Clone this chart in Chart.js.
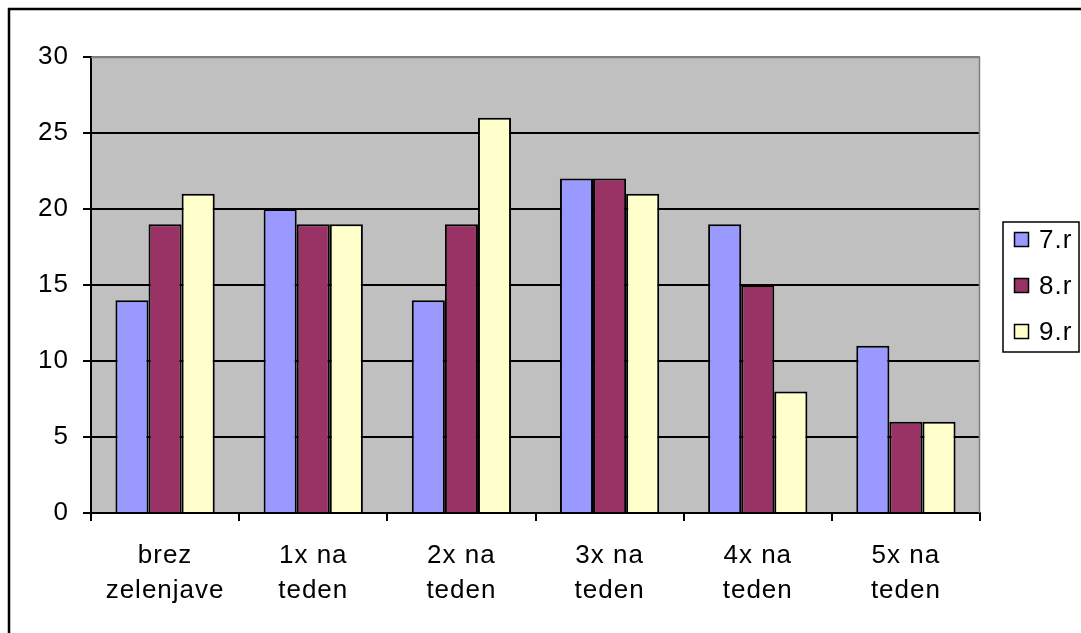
<!DOCTYPE html>
<html>
<head>
<meta charset="utf-8">
<script src="https://cdn.jsdelivr.net/npm/chart.js@4"></script>
<style>
  html, body { margin: 0; padding: 0; background: #fff; }
  #wrap { width: 1081px; height: 633px; }
</style>
</head>
<body>
<div id="wrap"><canvas id="myChart"></canvas></div>
<script>
const categories = [['brez', 'zelenjave'], ['1x na', 'teden'], ['2x na', 'teden'], ['3x na', 'teden'], ['4x na', 'teden'], ['5x na', 'teden']];
const seriesNames = ['7.r', '8.r', '9.r'];
const values7 = [14, 20, 14, 22, 19, 11];
const values8 = [19, 19, 19, 22, 15, 6];
const values9 = [21, 19, 26, 21, 8, 6];
const yTicks = [0, 5, 10, 15, 20, 25, 30];

const colors = ['#9999FF', '#993366', '#FFFFCC'];
const family = '"Liberation Sans", Arial, sans-serif';
const font = { family: family, size: 26, lineHeight: 1.35 };

const frame = {
  id: 'frame',
  beforeInit(chart) {
    chart.ctx.letterSpacing = '1px';
  },
  beforeDraw(chart) {
    const { ctx, chartArea: a } = chart;
    ctx.letterSpacing = '1px';
    ctx.save();
    ctx.fillStyle = '#C0C0C0';
    ctx.fillRect(a.left, a.top, a.right - a.left, a.bottom - a.top);
    ctx.restore();
  },
  afterDatasetsDraw(chart) {
    const { ctx, chartArea: a } = chart;
    ctx.save();
    // gray right / top edge of plot area
    ctx.strokeStyle = '#808080';
    ctx.lineWidth = 1.5;
    ctx.beginPath();
    ctx.moveTo(a.left, a.top + 0.5);
    ctx.lineTo(a.right - 0.5, a.top + 0.5);
    ctx.lineTo(a.right - 0.5, a.bottom);
    ctx.stroke();
    // outer border (right and bottom edges fall outside the picture)
    ctx.strokeStyle = '#000';
    ctx.lineWidth = 2.5;
    ctx.strokeRect(9, 9, 1100, 700);
    // legend box
    const lx = 1003, ly = 222, lw = 76, lh = 130;
    ctx.lineWidth = 1.5;
    ctx.strokeRect(lx, ly, lw, lh);
    ctx.font = '26px ' + family;
    ctx.textBaseline = 'middle';
    chart.data.datasets.forEach((ds, i) => {
      const y = ly + 17 + i * 46;
      ctx.fillStyle = ds.backgroundColor;
      ctx.fillRect(lx + 11, y - 7, 15, 15);
      ctx.lineWidth = 1.5;
      ctx.strokeStyle = '#000';
      ctx.strokeRect(lx + 11.5, y - 6.5, 14, 14);
      ctx.fillStyle = '#000';
      ctx.fillText(ds.label, lx + 36, y + 2);
    });
    ctx.restore();
  }
};

const datasets = [values7, values8, values9].map((vals, i) => ({
  label: seriesNames[i],
  data: vals,
  backgroundColor: colors[i],
  borderColor: '#000',
  borderWidth: 2,
  categoryPercentage: 0.67,
  barPercentage: 1
}));

new Chart(document.getElementById('myChart'), {
  type: 'bar',
  data: { labels: categories, datasets: datasets },
  plugins: [frame],
  options: {
    responsive: true,
    maintainAspectRatio: false,
    animation: false,
    layout: { padding: { top: 57, right: 101, bottom: 0, left: 0 } },
    plugins: { legend: { display: false }, tooltip: { enabled: false } },
    scales: {
      x: {
        afterFit(scale) { scale.height = 120; },
        border: { color: '#000', width: 2 },
        grid: { drawOnChartArea: false, drawTicks: true, tickLength: 8, color: '#000', lineWidth: 2, offset: true },
        ticks: { color: '#000', font: font, padding: 17, maxRotation: 0, autoSkip: false }
      },
      y: {
        min: 0,
        max: 30,
        afterFit(scale) { scale.width = 91; },
        afterBuildTicks(scale) { scale.ticks = yTicks.map(v => ({ value: v })); },
        border: { color: '#000', width: 2 },
        grid: {
          color: ctx => (ctx.tick && ctx.tick.value === 30 ? '#808080' : '#000'),
          tickColor: '#000',
          lineWidth: 2,
          tickLength: 8
        },
        ticks: { color: '#000', font: font, padding: 14 }
      }
    }
  }
});
</script>
</body>
</html>
